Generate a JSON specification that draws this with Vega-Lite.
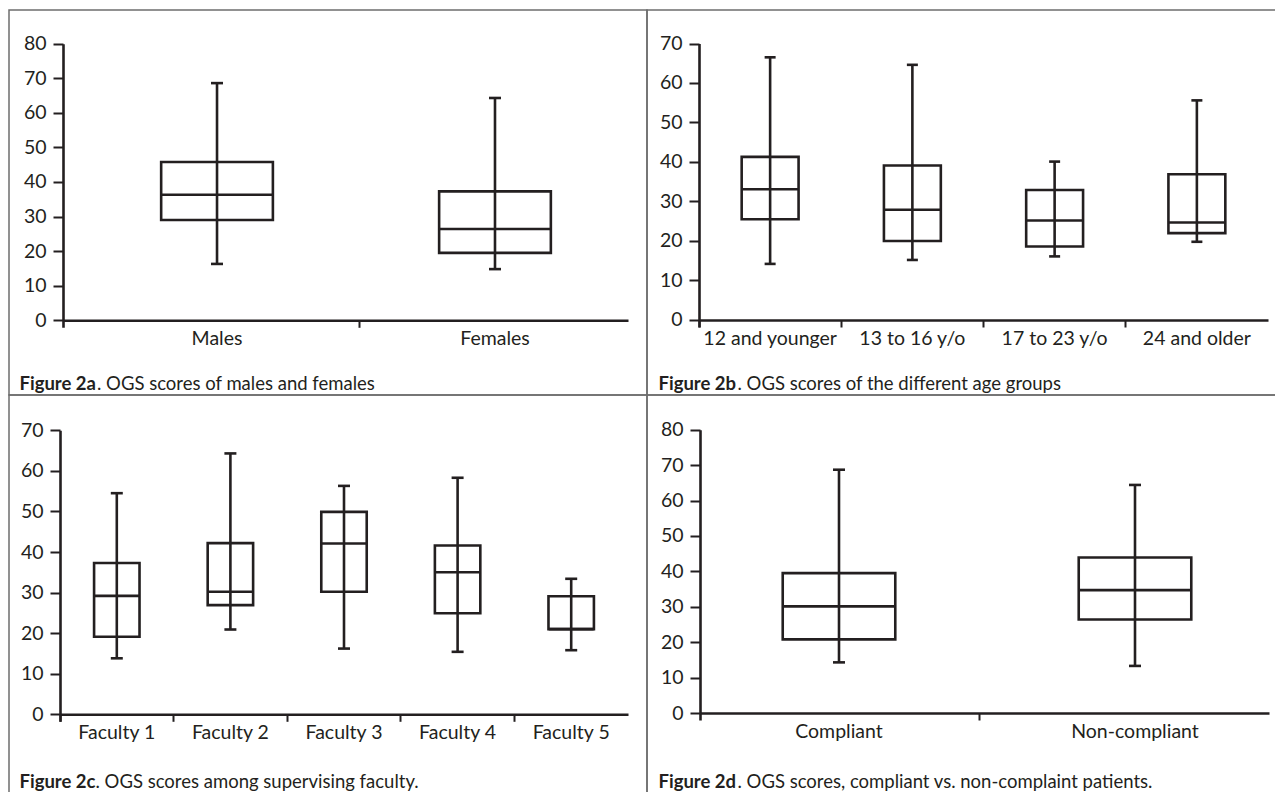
{
  "$schema": "https://vega.github.io/schema/vega-lite/v6.json",
  "padding": {"left": 8, "top": 9, "right": 0, "bottom": 0},
  "background": "white",
  "columns": 2,
  "spacing": 0,
  "bounds": "flush",
  "datasets": {
    "sex": [
      {"group": "Males", "min": 16.3, "q1": 29.0, "median": 36.3, "q3": 45.8, "max": 68.6},
      {"group": "Females", "min": 14.8, "q1": 19.5, "median": 26.4, "q3": 37.3, "max": 64.3}
    ],
    "age": [
      {"group": "12 and younger", "min": 14.2, "q1": 25.5, "median": 33.1, "q3": 41.3, "max": 66.5},
      {"group": "13 to 16 y/o", "min": 15.2, "q1": 20.0, "median": 27.9, "q3": 39.1, "max": 64.6},
      {"group": "17 to 23 y/o", "min": 16.1, "q1": 18.6, "median": 25.2, "q3": 32.9, "max": 40.1},
      {"group": "24 and older", "min": 19.8, "q1": 22.0, "median": 24.7, "q3": 36.9, "max": 55.6}
    ],
    "faculty": [
      {"group": "Faculty 1", "min": 13.8, "q1": 19.1, "median": 29.2, "q3": 37.3, "max": 54.5},
      {"group": "Faculty 2", "min": 20.9, "q1": 26.9, "median": 30.2, "q3": 42.2, "max": 64.3},
      {"group": "Faculty 3", "min": 16.2, "q1": 30.2, "median": 42.1, "q3": 49.9, "max": 56.3},
      {"group": "Faculty 4", "min": 15.4, "q1": 24.9, "median": 35.0, "q3": 41.6, "max": 58.3},
      {"group": "Faculty 5", "min": 15.8, "q1": 21.0, "median": 21.0, "q3": 29.1, "max": 33.4}
    ],
    "compliance": [
      {"group": "Compliant", "min": 14.3, "q1": 20.8, "median": 30.1, "q3": 39.5, "max": 68.7},
      {"group": "Non-compliant", "min": 13.3, "q1": 26.4, "median": 34.7, "q3": 43.9, "max": 64.4}
    ]
  },
  "concat": [
    {
      "width": 638, "height": 385,
      "data": {"name": "sex"},
      "encoding": {
        "x": {"field": "group", "type": "nominal", "sort": null,
          "scale": {"type": "band", "range": [54, 619], "paddingInner": 0.043, "paddingOuter": 0.0378, "align": 1},
          "axis": {"offset": -74.7, "bandPosition": -0.011,
            "tickOpacity": {"condition": {"test": "datum.value === 'Males'", "value": 0}, "value": 1},
            "title": ". OGS scores of males and females", "titleX": 87.5, "titleY": 68.7}}
      },
      "layer": [
        {"mark": {"type": "bar", "width": {"band": 0.42}, "fill": "transparent", "stroke": "#231f20", "strokeWidth": 2.6},
         "encoding": {"y": {"field": "q1", "type": "quantitative", "title": "Figure 2a",
            "scale": {"domain": [-2, 80], "range": [317.2, 33.7], "nice": false, "zero": false},
            "axis": {"offset": -54, "values": [0, 10, 20, 30, 40, 50, 60, 70, 80], "titleX": -44, "titleY": 379}},
           "y2": {"field": "q3"}}},
        {"mark": {"type": "rule", "stroke": "#231f20", "strokeWidth": 2.6},
         "encoding": {"y": {"field": "min", "type": "quantitative", "title": "Figure 2a"}, "y2": {"field": "max"}}},
        {"mark": {"type": "tick", "size": 112, "thickness": 2.6, "color": "#231f20", "opacity": 1},
         "encoding": {"y": {"field": "median", "type": "quantitative", "title": "Figure 2a"}}},
        {"mark": {"type": "tick", "size": 12, "thickness": 2.6, "color": "#231f20", "opacity": 1},
         "encoding": {"y": {"field": "min", "type": "quantitative", "title": "Figure 2a"}}},
        {"mark": {"type": "tick", "size": 12, "thickness": 2.6, "color": "#231f20", "opacity": 1},
         "encoding": {"y": {"field": "max", "type": "quantitative", "title": "Figure 2a"}}}
      ]
    },
    {
      "width": 629, "height": 385,
      "data": {"name": "age"},
      "encoding": {
        "x": {"field": "group", "type": "nominal", "sort": null,
          "scale": {"type": "band", "range": [52, 621], "paddingInner": 0, "paddingOuter": 0},
          "axis": {"offset": -75, "title": ". OGS scores of the different age groups", "titleX": 90, "titleY": 69}}
      },
      "layer": [
        {"mark": {"type": "bar", "width": {"band": 0.4}, "fill": "transparent", "stroke": "#231f20", "strokeWidth": 2.6},
         "encoding": {"y": {"field": "q1", "type": "quantitative", "title": "Figure 2b",
            "scale": {"domain": [-1.8, 70], "range": [317.1, 33.5], "nice": false, "zero": false},
            "axis": {"offset": -52, "values": [0, 10, 20, 30, 40, 50, 60, 70], "titleX": -41, "titleY": 379}},
           "y2": {"field": "q3"}}},
        {"mark": {"type": "rule", "stroke": "#231f20", "strokeWidth": 2.6},
         "encoding": {"y": {"field": "min", "type": "quantitative", "title": "Figure 2b"}, "y2": {"field": "max"}}},
        {"mark": {"type": "tick", "size": 57, "thickness": 2.6, "color": "#231f20", "opacity": 1},
         "encoding": {"y": {"field": "median", "type": "quantitative", "title": "Figure 2b"}}},
        {"mark": {"type": "tick", "size": 11, "thickness": 2.6, "color": "#231f20", "opacity": 1},
         "encoding": {"y": {"field": "min", "type": "quantitative", "title": "Figure 2b"}}},
        {"mark": {"type": "tick", "size": 11, "thickness": 2.6, "color": "#231f20", "opacity": 1},
         "encoding": {"y": {"field": "max", "type": "quantitative", "title": "Figure 2b"}}}
      ]
    },
    {
      "width": 638, "height": 398,
      "data": {"name": "faculty"},
      "encoding": {
        "x": {"field": "group", "type": "nominal", "sort": null,
          "scale": {"type": "band", "range": [51, 619], "paddingInner": 0, "paddingOuter": 0},
          "axis": {"offset": -78.7, "title": ". OGS scores among supervising faculty.", "titleX": 86, "titleY": 73}}
      },
      "layer": [
        {"mark": {"type": "bar", "width": {"band": 0.4}, "fill": "transparent", "stroke": "#231f20", "strokeWidth": 2.6},
         "encoding": {"y": {"field": "q1", "type": "quantitative", "title": "Figure 2c",
            "scale": {"domain": [-1.7, 70], "range": [326.2, 35.3], "nice": false, "zero": false},
            "axis": {"offset": -51, "values": [0, 10, 20, 30, 40, 50, 60, 70], "titleX": -41, "titleY": 392.3}},
           "y2": {"field": "q3"}}},
        {"mark": {"type": "rule", "stroke": "#231f20", "strokeWidth": 2.6},
         "encoding": {"y": {"field": "min", "type": "quantitative", "title": "Figure 2c"}, "y2": {"field": "max"}}},
        {"mark": {"type": "tick", "size": 45, "thickness": 2.6, "color": "#231f20", "opacity": 1},
         "encoding": {"y": {"field": "median", "type": "quantitative", "title": "Figure 2c"}}},
        {"mark": {"type": "tick", "size": 12, "thickness": 2.6, "color": "#231f20", "opacity": 1},
         "encoding": {"y": {"field": "min", "type": "quantitative", "title": "Figure 2c"}}},
        {"mark": {"type": "tick", "size": 12, "thickness": 2.6, "color": "#231f20", "opacity": 1},
         "encoding": {"y": {"field": "max", "type": "quantitative", "title": "Figure 2c"}}}
      ]
    },
    {
      "width": 629, "height": 398,
      "data": {"name": "compliance"},
      "encoding": {
        "x": {"field": "group", "type": "nominal", "sort": null,
          "scale": {"type": "band", "range": [53, 622], "paddingInner": 0.0946, "paddingOuter": 0.00845, "align": 1},
          "axis": {"offset": -80, "bandPosition": -0.082,
            "tickOpacity": {"condition": {"test": "datum.value === 'Compliant'", "value": 0}, "value": 1},
            "title": ". OGS scores, compliant vs. non-complaint patients.", "titleX": 90, "titleY": 74.5}}
      },
      "layer": [
        {"mark": {"type": "bar", "width": {"band": 0.42}, "fill": "transparent", "stroke": "#231f20", "strokeWidth": 2.6},
         "encoding": {"y": {"field": "q1", "type": "quantitative", "title": "Figure 2d",
            "scale": {"domain": [-2, 80], "range": [325.1, 34.7], "nice": false, "zero": false},
            "axis": {"offset": -53, "values": [0, 10, 20, 30, 40, 50, 60, 70, 80], "titleX": -42, "titleY": 392.5}},
           "y2": {"field": "q3"}}},
        {"mark": {"type": "rule", "stroke": "#231f20", "strokeWidth": 2.6},
         "encoding": {"y": {"field": "min", "type": "quantitative", "title": "Figure 2d"}, "y2": {"field": "max"}}},
        {"mark": {"type": "tick", "size": 113, "thickness": 2.6, "color": "#231f20", "opacity": 1},
         "encoding": {"y": {"field": "median", "type": "quantitative", "title": "Figure 2d"}}},
        {"mark": {"type": "tick", "size": 12, "thickness": 2.6, "color": "#231f20", "opacity": 1},
         "encoding": {"y": {"field": "min", "type": "quantitative", "title": "Figure 2d"}}},
        {"mark": {"type": "tick", "size": 12, "thickness": 2.6, "color": "#231f20", "opacity": 1},
         "encoding": {"y": {"field": "max", "type": "quantitative", "title": "Figure 2d"}}}
      ]
    }
  ],
  "config": {
    "font": "Lato",
    "view": {"stroke": "#6d6d6d", "strokeWidth": 1.5},
    "axis": {
      "domainColor": "#231f20", "domainWidth": 2.6,
      "tickColor": "#231f20", "tickWidth": 2,
      "labelColor": "#231f20", "labelFont": "Lato", "labelFontSize": 19.5,
      "grid": false,
      "titleColor": "#231f20", "titleFont": "Lato", "titleFontSize": 18.5,
      "titleAngle": 0, "titleAlign": "left", "titleBaseline": "alphabetic"
    },
    "axisY": {"tickSize": 10, "labelPadding": 7, "titleFontWeight": "bold"},
    "axisX": {"tickSize": 7, "labelPadding": 2, "bandPosition": 0, "tickExtra": false, "titleFontWeight": "normal", "labelAngle": 0}
  }
}
